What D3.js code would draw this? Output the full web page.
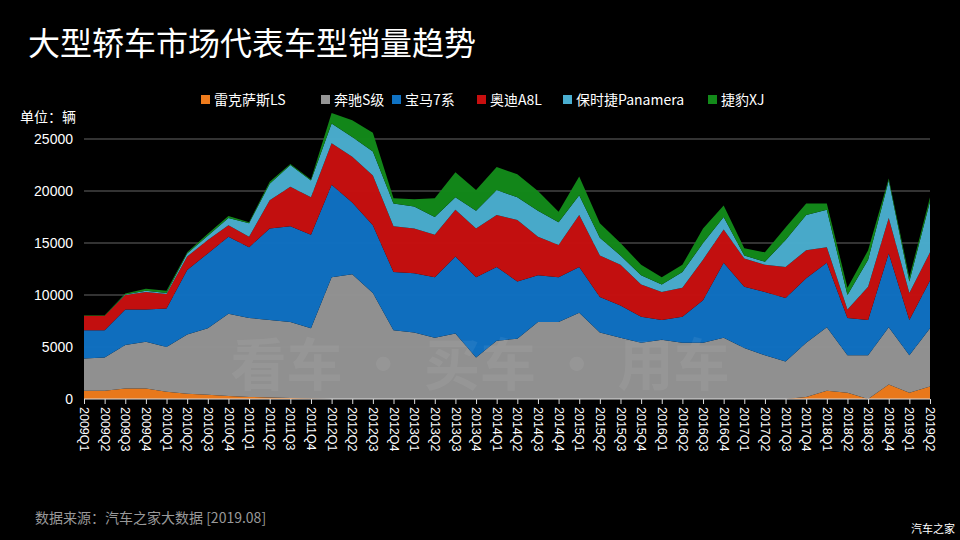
<!DOCTYPE html>
<html><head><meta charset="utf-8">
<script src="https://cdn.jsdelivr.net/npm/d3@7"></script>
<style>body{margin:0;background:#000}svg{font-family:"Noto Sans CJK SC","Noto Sans",sans-serif}</style>
</head><body><svg id="c" width="960" height="540"></svg>
<script>
const quarters = [];
for (let y = 2009; y <= 2019; y++) for (let q = 1; q <= 4; q++) if (!(y === 2019 && q > 2)) quarters.push(y + "Q" + q);

const seriesNames = ["雷克萨斯LS", "奔驰S级", "宝马7系", "奥迪A8L", "保时捷Panamera", "捷豹XJ"];
const colors = ["#f07c1c", "#959595", "#0f72c4", "#c80f0f", "#4aaed0", "#138a1a"];

const lexusLS = [800,800,1000,1000,700,500,400,300,200,150,100,50,0,0,0,0,0,0,0,0,0,0,0,0,0,0,0,0,0,0,0,0,0,0,0,200,800,600,0,1400,600,1200];
const benzS = [3100,3200,4200,4500,4300,5700,6400,7900,7600,7450,7300,6750,11700,12000,10200,6600,6400,5900,6300,4000,5600,5800,7400,7400,8300,6400,5900,5400,5700,5400,5400,5900,4900,4200,3600,5200,6100,3600,4200,5500,3600,5600];
const bmw7 = [2700,2600,3400,3100,3700,6200,7200,7400,6800,8800,9200,9000,8900,6900,6500,5600,5700,5800,7400,7700,7100,5500,4500,4300,4400,3400,3100,2500,1900,2500,4100,7200,5900,6100,6100,6200,6200,3600,3400,7100,3400,4600];
const audiA8L = [1400,1400,1400,1700,1400,1300,1300,1100,1000,2700,3800,3600,4000,4400,4800,4400,4300,4100,4500,4700,5000,5900,3700,3100,5000,4000,3900,3100,2700,2800,3900,3200,2700,2600,3000,2700,1500,800,3200,3400,2600,2700];
const panamera = [0,0,50,100,100,300,400,700,1300,1600,2100,1600,1900,1900,2300,2200,2100,1700,1200,1700,2400,2200,2500,2200,1900,1700,900,900,700,1500,1600,1200,300,300,2600,3400,3600,1400,2600,3600,1100,4900];
const jaguarXJ = [50,50,100,200,200,100,200,200,100,200,100,100,1000,1600,1800,500,700,1800,2400,2000,2200,2200,1900,1000,1800,1400,1200,1000,700,700,1400,1100,700,900,1200,1100,600,700,900,200,400,400];
const yTicks = [0,5000,10000,15000,20000,25000];

const table = quarters.map((q, i) => ({
  q, s0: lexusLS[i], s1: benzS[i], s2: bmw7[i], s3: audiA8L[i], s4: panamera[i], s5: jaguarXJ[i]
}));
const keys = ["s0","s1","s2","s3","s4","s5"];

const svg = d3.select("#c");
const x = d3.scalePoint().domain(quarters).range([84, 930]);
const y = d3.scaleLinear().domain([0, 25000]).range([399, 139]);

svg.append("text").attr("x", 28).attr("y", 55).attr("fill", "#fff")
  .attr("font-size", 32).text("大型轿车市场代表车型销量趋势");

// grid
svg.append("g").selectAll("line").data(yTicks.slice(1)).join("line")
  .attr("x1", 84).attr("x2", 930).attr("y1", d => y(d)).attr("y2", d => y(d))
  .attr("stroke", "#666").attr("stroke-width", 1);

const stack = d3.stack().keys(keys)(table);
const area = d3.area().x(d => x(d.data.q)).y0(d => y(d[0])).y1(d => y(d[1]));
svg.append("g").selectAll("path").data(stack).join("path")
  .attr("d", area).attr("fill", (d, i) => colors[i]).attr("opacity", 0.97);

// watermark over the chart
svg.append("text").attr("x", 480).attr("y", 385).attr("text-anchor", "middle")
  .attr("font-size", 56).attr("font-weight", "bold").attr("fill", "#fff").attr("opacity", 0.06)
  .text("看车 · 买车 · 用车");

// axes
const yAxis = svg.append("g").attr("transform", "translate(76,0)")
  .call(d3.axisLeft(y).tickValues(yTicks).tickSize(0).tickFormat(d3.format("d")));
yAxis.select(".domain").remove();
yAxis.selectAll("text").attr("fill", "#fff").attr("font-size", 14);

const xAxis = svg.append("g").attr("transform", "translate(0,399)")
  .call(d3.axisBottom(x).tickSize(5));
xAxis.select(".domain").attr("stroke", "#ddd").attr("d", "M84,0H930");
xAxis.selectAll("line").attr("stroke", "#ddd");
xAxis.selectAll("text").attr("fill", "#fff").attr("font-size", 12.5)
  .attr("transform", "rotate(90)").attr("text-anchor", "start")
  .attr("x", 8).attr("y", 0).attr("dy", "0.35em");

svg.append("text").attr("x", 20).attr("y", 122).attr("fill", "#fff")
  .attr("font-size", 14).text("单位：辆");

// legend
const lg = svg.append("g");
const lx = [201, 321, 392, 477, 563, 708];
seriesNames.forEach((n, i) => {
  lg.append("rect").attr("x", lx[i]).attr("y", 95).attr("width", 9).attr("height", 9).attr("fill", colors[i]);
  lg.append("text").attr("x", lx[i] + 13).attr("y", 105).attr("fill", "#fff").attr("font-size", 14).text(n);
});

svg.append("text").attr("x", 35).attr("y", 523).attr("fill", "#999")
  .attr("font-size", 14).text("数据来源：汽车之家大数据 [2019.08]");
svg.append("text").attr("x", 955).attr("y", 533).attr("text-anchor", "end").attr("fill", "#fff")
  .attr("font-size", 11).text("汽车之家");
</script></body></html>
